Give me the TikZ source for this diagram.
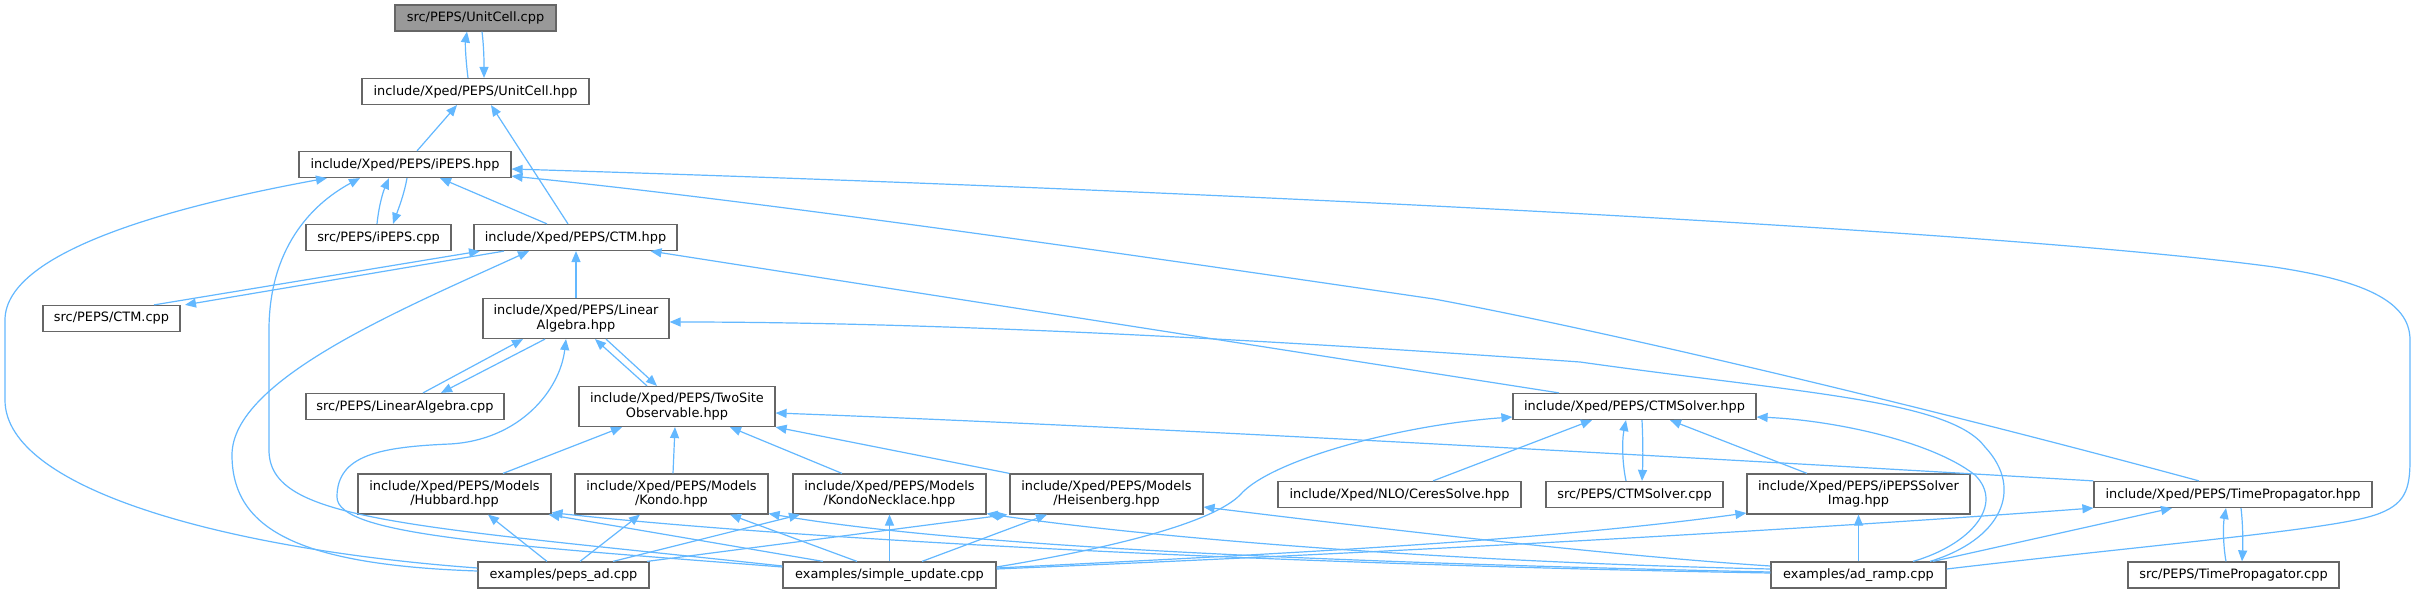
\documentclass[tikz,border=0pt]{standalone}
\usepackage{fontspec}
\setmainfont{DejaVu Sans}
\usetikzlibrary{arrows.meta}
\definecolor{edgeblue}{HTML}{63B8FF}
\definecolor{boxgray}{HTML}{666666}
\definecolor{focalgray}{HTML}{999999}
\begin{document}
\begin{tikzpicture}[x=1pt,y=-1pt,
  box/.style={draw=boxgray, line width=1.2pt, fill=white, inner sep=0pt, align=center,
    font=\fontsize{12.9}{14.5}\selectfont, minimum height=26pt},
  boxtwo/.style={box, minimum height=40pt},
  e/.style={draw=edgeblue, line width=1.2pt, -{Triangle[length=11pt,width=9pt]}}]
\useasboundingbox[fill=white] (0,0) rectangle (2417,593);
% nodes
\node[box,fill=focalgray,minimum width=161pt] (uccpp) at (475.5,18) {src/PEPS/UnitCell.cpp};
\node[box,minimum width=227pt] (uchpp) at (475.5,91.5) {include/Xped/PEPS/UnitCell.hpp};
\node[box,minimum width=212pt] (ipepshpp) at (405,164.5) {include/Xped/PEPS/iPEPS.hpp};
\node[box,minimum width=145pt] (ipepscpp) at (378.5,237.5) {src/PEPS/iPEPS.cpp};
\node[box,minimum width=203pt] (ctmhpp) at (575.5,237.5) {include/Xped/PEPS/CTM.hpp};
\node[box,minimum width=137pt] (ctmcpp) at (111.5,318.5) {src/PEPS/CTM.cpp};
\node[boxtwo,minimum width=186pt] (linalghpp) at (576,318.5) {include/Xped/PEPS/Linear\\Algebra.hpp};
\node[box,minimum width=198pt] (linalgcpp) at (405,406.5) {src/PEPS/LinearAlgebra.cpp};
\node[boxtwo,minimum width=196pt] (twosite) at (677,406.5) {include/Xped/PEPS/TwoSite\\Observable.hpp};
\node[box,minimum width=243pt] (ctmsolverhpp) at (1634.5,406.5) {include/Xped/PEPS/CTMSolver.hpp};
\node[boxtwo,minimum width=193pt] (hubbard) at (454.5,494) {include/Xped/PEPS/Models\\/Hubbard.hpp};
\node[boxtwo,minimum width=193pt] (kondo) at (671.5,494) {include/Xped/PEPS/Models\\/Kondo.hpp};
\node[boxtwo,minimum width=193pt] (kn) at (889.5,494) {include/Xped/PEPS/Models\\/KondoNecklace.hpp};
\node[boxtwo,minimum width=193pt] (heis) at (1106.5,494) {include/Xped/PEPS/Models\\/Heisenberg.hpp};
\node[box,minimum width=243pt] (ceres) at (1399.5,494.5) {include/Xped/NLO/CeresSolve.hpp};
\node[box,minimum width=177pt] (ctmsolvercpp) at (1634.5,494.5) {src/PEPS/CTMSolver.cpp};
\node[boxtwo,minimum width=223pt] (imag) at (1858.5,494) {include/Xped/PEPS/iPEPSSolver\\Imag.hpp};
\node[box,minimum width=278pt] (tphpp) at (2233,494.5) {include/Xped/PEPS/TimePropagator.hpp};
\node[box,minimum width=171pt] (pepsad) at (563.5,575) {examples/peps\_ad.cpp};
\node[box,minimum width=213pt] (su) at (889.5,575) {examples/simple\_update.cpp};
\node[box,minimum width=175pt] (adramp) at (1858.5,575) {examples/ad\_ramp.cpp};
\node[box,minimum width=211pt] (tpcpp) at (2233.5,575) {src/PEPS/TimePropagator.cpp};
% edges
\draw[e] ([xshift=-7.5pt]uchpp.north) .. controls (466,62) and (465,45) .. ([xshift=-8.5pt]uccpp.south);
\draw[e] ([xshift=6.5pt]uccpp.south) .. controls (484,48) and (484,62) .. ([xshift=8.5pt]uchpp.north);
\draw[e] ([xshift=12pt]ipepshpp.north) -- ([xshift=-18.5pt]uchpp.south);
\draw[e] ([xshift=-7.5pt]ctmhpp.north) -- ([xshift=15.5pt]uchpp.south);
\draw[e] ([xshift=-1.5pt]ipepscpp.north) .. controls (379,205) and (383,192) .. ([xshift=-16pt]ipepshpp.south);
\draw[e] ([xshift=2pt]ipepshpp.south) .. controls (404,195) and (398,210) .. ([xshift=14.5pt]ipepscpp.north);
\draw[e] ([xshift=-28.5pt]ctmhpp.north) -- ([xshift=35pt]ipepshpp.south);
\draw[e] ([yshift=7pt]pepsad.west) .. controls (230,550) and (5,490) .. (5,400) -- (5,320) .. controls (5,250) and (180,205) .. ([xshift=-78pt]ipepshpp.south);
\draw[e] ([yshift=9pt]su.west) .. controls (400,525) and (269,520) .. (269,450) -- (269,330) .. controls (269,250) and (310,205) .. ([xshift=-45pt]ipepshpp.south);
\draw[e] ([xshift=42.5pt]ctmcpp.north) -- ([xshift=-95.5pt]ctmhpp.south);
\draw[e] ([xshift=-71.5pt]ctmhpp.south) -- ([xshift=73.5pt]ctmcpp.north);
\draw[e] ([yshift=4pt]pepsad.west) .. controls (300,565) and (232,530) .. (232,455) .. controls (232,380) and (400,310) .. ([xshift=-46.5pt]ctmhpp.south);
\draw[e] (linalghpp.north) -- (linalghpp.north |- ctmhpp.south);
\draw[e] ([xshift=-75.5pt]ctmsolverhpp.north) -- ([xshift=75pt]ctmhpp.south);
\draw[e] ([xshift=18pt]linalgcpp.north) -- ([xshift=-53pt]linalghpp.south);
\draw[e] ([xshift=-31pt]linalghpp.south) -- ([xshift=36pt]linalgcpp.north);
\draw[e] ([xshift=-30pt]twosite.north) -- ([xshift=19pt]linalghpp.south);
\draw[e] ([xshift=30pt]linalghpp.south) -- ([xshift=-20pt]twosite.north);
\draw[e] ([yshift=8pt]su.west) .. controls (500,545) and (337,535) .. (337,497) .. controls (337,455) and (380,447) .. (450,444) .. controls (520,440) and (560,390) .. ([xshift=-10pt]linalghpp.south);
\draw[e] ([xshift=71.5pt]adramp.north) .. controls (2000,540) and (2025,490) .. (1985,447) .. controls (1950,400) and (1800,393) .. (1580,362) .. controls (1200,335) and (900,322) .. ([yshift=-3.5pt]linalghpp.east);
\draw[e] ([xshift=54.5pt]adramp.north) .. controls (1970,545) and (2005,505) .. (1975,475) .. controls (1930,440) and (1830,420) .. ([yshift=-10.5pt]ctmsolverhpp.east);
\draw[e] ([yshift=6pt]adramp.east) .. controls (2150,545) and (2330,530) .. (2375,515) .. controls (2405,505) and (2410,490) .. (2410,460) -- (2410,340) .. controls (2410,300) and (2360,280) .. (2274,267) .. controls (2000,230) and (1200,190) .. ([yshift=-4.5pt]ipepshpp.east);
\draw[e] ([xshift=-34pt]tphpp.north) .. controls (1900,400) and (1600,330) .. (1434,299) .. controls (1100,250) and (750,200) .. ([yshift=2pt]ipepshpp.south east);
\draw[e] ([xshift=33.5pt]ceres.north) -- ([xshift=-42.5pt]ctmsolverhpp.south);
\draw[e] ([xshift=-8.5pt]ctmsolvercpp.north) .. controls (1622,462) and (1622,440) .. ([xshift=-8.5pt]ctmsolverhpp.south);
\draw[e] ([xshift=7.5pt]ctmsolverhpp.south) .. controls (1643,440) and (1643,460) .. ([xshift=7.5pt]ctmsolvercpp.north);
\draw[e] ([xshift=-51.5pt]imag.north) -- ([xshift=35.5pt]ctmsolverhpp.south);
\draw[e] ([yshift=8pt]su.east) .. controls (1130,545) and (1215,520) .. (1240,495) .. controls (1270,460) and (1400,425) .. ([yshift=-10.5pt]ctmsolverhpp.west);
\draw[e] ([yshift=7pt]su.east) .. controls (1300,553) and (1550,540) .. ([yshift=-19pt]imag.west);
\draw[e] ([yshift=6pt]su.east) .. controls (1400,552) and (1800,530) .. ([yshift=-13.5pt]tphpp.west);
\draw[e] (adramp.north) -- (imag.south);
\draw[e] ([xshift=74.5pt]adramp.north) -- ([xshift=-61pt]tphpp.south);
\draw[e] ([xshift=-7.5pt]tpcpp.north) .. controls (2223,545) and (2223,525) .. ([xshift=-7pt]tphpp.south);
\draw[e] ([xshift=8pt]tphpp.south) .. controls (2243,525) and (2243,545) .. ([xshift=8.5pt]tpcpp.north);
\draw[e] ([xshift=48.5pt]hubbard.north) -- ([xshift=-55pt]twosite.south);
\draw[e] ([xshift=1.5pt]kondo.north) -- ([xshift=-2pt]twosite.south);
\draw[e] ([xshift=-47.5pt]kn.north) -- ([xshift=53pt]twosite.south);
\draw[e] (heis.north west) -- (twosite.south east);
\draw[e] (tphpp.north west) .. controls (1600,452) and (1100,425) .. ([yshift=-6.5pt]twosite.east);
\draw[e] ([xshift=-16.5pt]pepsad.north) -- ([xshift=33.5pt]hubbard.south);
\draw[e] ([xshift=16.5pt]pepsad.north) -- ([xshift=-31.5pt]kondo.south);
\draw[e] ([xshift=49.5pt]pepsad.north) -- ([xshift=-89.5pt]kn.south);
\draw[e] ([xshift=83.5pt]pepsad.north) -- ([xshift=-2pt]heis.south west);
\draw[e] ([xshift=-66.5pt]su.north) -- ([xshift=-3pt]hubbard.south east);
\draw[e] ([xshift=-32.5pt]su.north) -- ([xshift=58.5pt]kondo.south);
\draw[e] (su.north) -- (kn.south);
\draw[e] ([xshift=32.5pt]su.north) -- ([xshift=-59.5pt]heis.south);
\draw[e] ([yshift=9pt]adramp.west) .. controls (1600,555) and (1350,525) .. ([yshift=-13pt]heis.east);
\draw[e] ([yshift=6pt]adramp.west) .. controls (1450,562) and (1150,538) .. ([yshift=1pt]kn.south east);
\draw[e] ([yshift=3pt]adramp.west) .. controls (1300,562) and (950,545) .. ([yshift=1pt]kondo.south east);
\draw[e] ([yshift=2pt]adramp.west) .. controls (1300,565) and (800,540) .. ([yshift=2pt]hubbard.south east);
\end{tikzpicture}
\end{document}
